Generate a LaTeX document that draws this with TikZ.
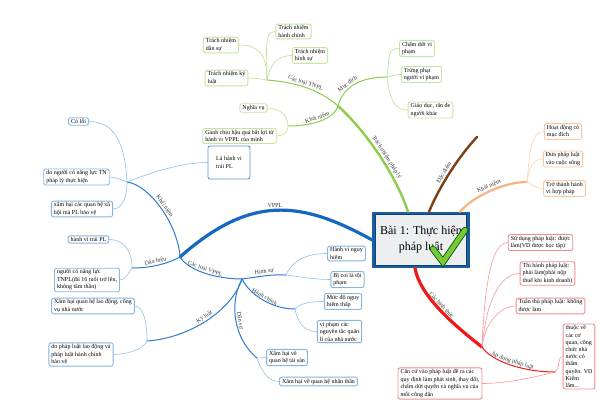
\documentclass[tikz,border=0pt]{standalone}
\usepackage{fontspec}
\setmainfont{Liberation Serif}
\usetikzlibrary{calc}
\definecolor{gmainc}{RGB}{140,205,75}
\definecolor{gleafc}{RGB}{185,225,145}
\definecolor{gboxc}{RGB}{195,230,160}
\definecolor{bmainc}{RGB}{20,105,190}
\definecolor{bsubc}{RGB}{45,125,205}
\definecolor{bleafc}{RGB}{145,192,235}
\definecolor{bboxc}{RGB}{130,182,228}
\definecolor{rmainc}{RGB}{238,25,25}
\definecolor{rleafc}{RGB}{250,150,150}
\definecolor{rboxc}{RGB}{242,140,140}
\definecolor{omainc}{RGB}{246,180,130}
\definecolor{oleafc}{RGB}{250,212,180}
\definecolor{oboxc}{RGB}{248,200,160}
\definecolor{brc}{RGB}{125,65,20}
\definecolor{cframe}{RGB}{25,95,160}
\definecolor{cfill}{RGB}{236,238,240}
\definecolor{chk}{RGB}{120,200,55}
\definecolor{lblc}{RGB}{55,55,55}

\begin{document}
\begin{tikzpicture}[
  x=1pt,y=-1pt,line cap=round,
  box/.style={draw,rounded corners=2pt,fill=white,line width=.9pt,align=left,
    font=\fontsize{6}{7.5}\selectfont,inner xsep=2.5pt,inner ysep=1.5pt},
  gbox/.style={box,draw=gboxc},
  bbox/.style={box,draw=bboxc},
  obox/.style={box,draw=oboxc},
  rbox/.style={box,draw=rboxc},
  lbl/.style={font=\fontsize{6}{7}\selectfont,text=lblc,sloped,above,inner sep=1pt},
  gmain/.style={draw=gmainc,line width=2.4pt},
  gsub/.style={draw=gmainc,line width=1pt},
  gleaf/.style={draw=gleafc,line width=.6pt},
  bmain/.style={draw=bmainc,line width=3.2pt},
  bsub/.style={draw=bsubc,line width=1pt},
  bleaf/.style={draw=bleafc,line width=.6pt},
  rmain/.style={draw=rmainc,line width=3.2pt},
  rsub/.style={draw=rmainc,line width=1pt},
  rleaf/.style={draw=rleafc,line width=.6pt},
  omain/.style={draw=omainc,line width=2.2pt},
  oleaf/.style={draw=oleafc,line width=.6pt},
  brmain/.style={draw=brc,line width=2.4pt}]
\useasboundingbox[fill=white] (0,0) rectangle (600,400);

% centre
\node[draw=cframe,fill=cfill,line width=3.5pt,minimum width=94pt,minimum height=53pt,
  align=center,font=\fontsize{12}{16}\selectfont] (ctr) at (421,240)
  {Bài 1: Thực hiện\\pháp luật};
\draw[cframe!70!black,line width=.6pt] ([shift={(3,3)}]ctr.north west) rectangle ([shift={(-3,-3)}]ctr.south east);
\draw[green!35!black,line width=6.5pt,line join=miter] (433,249)--(443,262)--(465,230);
\draw[chk,line width=4.8pt,line join=miter] (433,249)--(443,262)--(465,230);

% hubs
\coordinate (gJ) at (338,106);
\coordinate (mHub) at (387,77);
\coordinate (tHub) at (267,80);
\coordinate (kHub) at (288,126);
\coordinate (brEnd) at (477,137);
\coordinate (oHub) at (527,182);
\coordinate (rHub) at (482,347);
\coordinate (aHub) at (555,372);
\coordinate (bJ) at (180,257);
\coordinate (bkHub) at (127,182);
\coordinate (bdHub) at (132,268);
\coordinate (bJ3) at (242,279);
\coordinate (hsHub) at (286,275);
\coordinate (hcHub) at (295,309);
\coordinate (dsHub) at (257,358);
\coordinate (klHub) at (147,341);

% green
\node[gbox] (mdA) at (417,48.5) {Chấm dứt vi\\phạm};
\node[gbox] (mdB) at (421.5,74.5) {Trừng phạt\\người vi phạm};
\node[gbox] (mdC) at (430.5,110) {Giáo dục, răn đe\\người khác};
\node[gbox] (tnA) at (221,45) {Trách nhiệm\\dân sự};
\node[gbox] (tnB) at (293.5,31.5) {Trách nhiệm\\hành chính};
\node[gbox] (tnC) at (310,55.5) {Trách nhiệm\\hình sự};
\node[gbox] (tnD) at (226.5,78) {Trách nhiệm kỷ\\luật};
\node[gbox] (knA) at (253.5,108) {Nghĩa vụ};
\node[gbox] (knB) at (239.5,136) {Gánh chịu hậu quả bất lợi từ\\hành vi VPPL của mình};

% orange
\node[obox] (okA) at (563,131.5) {Hoạt động có\\mục đích};
\node[obox] (okB) at (563,159) {Đưa pháp luật\\vào cuộc sống};
\node[obox] (okC) at (564.5,188.5) {Trở thành hành\\vi hợp pháp};

% red
\node[rbox] (rA) at (540.5,242.5) {Sử dụng pháp luật: được\\làm(VD được học tập)};
\node[rbox] (rB) at (547.5,273.5) {Thi hành pháp luật:\\phải làm(phải nộp\\thuế khi kinh doanh)};
\node[rbox] (rC) at (550.5,306) {Tuân thủ pháp luật: không\\được làm};
\node[rbox,font=\fontsize{6}{7.2}\selectfont] (rD) at (579,356.5)
  {thuộc về\\các cơ\\quan, công\\chức nhà\\nước có\\thẩm\\quyền. VD\\Kiểm\\lâm...};
\node[rbox] (rE) at (440,383.5) {Căn cứ vào pháp luật đề ra các\\quy định làm phát sinh, thay đổi,\\chấm dứt quyền và nghĩa vụ của\\mỗi công dân};

% blue
\node[bbox] (bkA) at (78.5,121.5) {Có lỗi};
\node[bbox,draw=bsubc!80,minimum width=42pt,minimum height=33pt,inner xsep=6pt] (bkB) at (229,162.5) {Là hành vi\\trái PL};
\node[bbox] (bkC) at (76.5,177) {do người có năng lực TN\\pháp lý thực hiện};
\node[bbox] (bkD) at (82,209) {xâm hại các quan hệ xã\\hội mà PL bảo vệ};
\node[bbox] (bdA) at (88.5,239.5) {hành vi trái PL};
\node[bbox] (bdB) at (87,280) {người có năng lực\\TNPL(đủ 16 tuổi trở lên,\\không tâm thần)};
\node[bbox] (hsA) at (346.5,253.5) {Hành vi nguy\\hiểm};
\node[bbox] (hsB) at (347.5,279.5) {Bị coi là tội\\phạm};
\node[bbox] (hcA) at (343,301.5) {Mức độ nguy\\hiểm thấp};
\node[bbox] (hcB) at (339.5,331.5) {vi phạm các\\nguyên tắc quản\\lí của nhà nước};
\node[bbox] (dsA) at (287,357.5) {Xâm hại về\\quan hệ tài sản};
\node[bbox] (dsB) at (318.5,381.5) {Xâm hại về quan hệ nhân thân};
\node[bbox] (klA) at (93,306) {Xâm hại quan hệ lao động, công\\vụ nhà nước};
\node[bbox] (klB) at (81,354.5) {do pháp luật lao động và\\pháp luật hành chính\\bảo vệ};

% green branch
\draw[gmain] ([xshift=-13pt]ctr.north) .. controls (396,175) and (365,130) .. node[lbl,pos=.45]{Trách nhiệm pháp lý} (gJ);
\draw[gsub] (gJ) .. controls +(5,-20) and +(-25,0) .. node[lbl,pos=.4]{Mục đích} (mHub);
\draw[gsub] (gJ) .. controls +(-20,-18) and +(25,2) .. node[lbl]{Các loại TNPL} (tHub);
\draw[gsub] (gJ) .. controls +(-5,15) and +(20,0) .. node[lbl]{Khái niệm} (kHub);
\draw[gleaf] (mHub) .. controls +(3,-22) and +(-12,0) .. (mdA.west);
\draw[gleaf] (mHub) .. controls +(6,-1) and +(-6,0) .. (mdB.west);
\draw[gleaf] (mHub) .. controls +(3,25) and +(-12,0) .. (mdC.west);
\draw[gleaf] (tHub) .. controls +(0,-25) and +(20,0) .. (tnA.east);
\draw[gleaf] (tHub) .. controls +(0,-30) and +(-12,0) .. (tnB.west);
\draw[gleaf] (tHub) .. controls +(3,-15) and +(-15,0) .. (tnC.west);
\draw[gleaf] (tHub) .. controls +(-8,-1) and +(8,0) .. (tnD.east);
\draw[gleaf] (kHub) .. controls +(0,-12) and +(10,0) .. (knA.east);
\draw[gleaf] (kHub) .. controls +(0,8) and +(5,0) .. (knB.east);

% brown branch
\draw[brmain] ([xshift=8pt]ctr.north) .. controls (440,185) and (460,155) .. node[lbl,pos=.45]{Đặc điểm} (brEnd);

% orange branch
\draw[omain] ([xshift=-10pt]ctr.north east) .. controls (475,195) and (505,182) .. node[lbl]{Khái niệm} (oHub);
\draw[oleaf] (oHub) .. controls +(3,-35) and +(-12,0) .. (okA.west);
\draw[oleaf] (oHub) .. controls +(2,-15) and +(-10,0) .. (okB.west);
\draw[oleaf] (oHub) .. controls +(5,3) and +(-8,0) .. (okC.west);

% red branch
\draw[rmain] ([xshift=-6pt]ctr.south) .. controls (420,295) and (450,322) .. node[lbl]{Các hình thức} (rHub);
\draw[rleaf] (rHub) .. controls +(3,-70) and +(-15,0) .. (rA.west);
\draw[rleaf] (rHub) .. controls +(4,-45) and +(-20,0) .. (rB.west);
\draw[rleaf] (rHub) .. controls +(3,-25) and +(-15,0) .. (rC.west);
\draw[rsub] (rHub) .. controls (492,362) and (525,372) .. node[lbl]{Áp dụng pháp luật} (aHub);
\draw[rleaf] (aHub) .. controls +(5,-3) and +(-5,0) .. (rD.west);
\draw[rleaf] (aHub) .. controls +(-20,5) and +(25,0) .. (rE.east);

% blue branch
\draw[bmain] (ctr.west) .. controls (300,200) and (250,195) .. node[lbl]{VPPL} (bJ);
\draw[bsub] (bJ) .. controls (178,225) and (150,185) .. node[lbl]{Khái niệm} (bkHub);
\draw[bsub] (bJ) .. controls (165,265) and (148,268) .. node[lbl]{Dấu hiệu} (bdHub);
\draw[bsub] (bJ) .. controls (188,270) and (215,279) .. node[lbl]{Các loại VPPL} (bJ3);
\draw[bleaf] (bkHub) .. controls +(-2,-40) and +(25,0) .. (bkA.east);
\draw[bleaf] (bkHub) .. controls +(25,-10) and +(-25,0) .. (bkB.west);
\draw[bleaf] (bkHub) .. controls +(-5,-2) and +(5,0) .. (bkC.east);
\draw[bleaf] (bkHub) .. controls +(0,18) and +(8,0) .. (bkD.east);
\draw[bleaf] (bdHub) .. controls +(0,-20) and +(12,0) .. (bdA.east);
\draw[bleaf] (bdHub) .. controls +(-3,5) and +(5,0) .. (bdB.east);
\draw[bsub] (bJ3) .. controls (258,277) and (272,274) .. node[lbl]{Hình sự} (hsHub);
\draw[bsub] (bJ3) .. controls (250,295) and (272,309) .. node[lbl]{Hành chính} (hcHub);
\draw[bsub] (bJ3) .. controls (228,305) and (235,340) .. node[lbl]{Dân sự} (dsHub);
\draw[bsub] (bJ3) .. controls (232,310) and (190,338) .. node[lbl]{Kỷ luật} (klHub);
\draw[bleaf] (hsHub) .. controls +(8,-18) and +(-15,0) .. (hsA.west);
\draw[bleaf] (hsHub) .. controls +(15,2) and +(-15,0) .. (hsB.west);
\draw[bleaf] (hcHub) .. controls +(5,-6) and +(-12,0) .. (hcA.west);
\draw[bleaf] (hcHub) .. controls +(3,15) and +(-12,0) .. (hcB.west);
\draw[bleaf] (dsHub) .. controls +(4,0) and +(-4,0) .. (dsA.west);
\draw[bleaf] (dsHub) .. controls +(5,15) and +(-10,0) .. (dsB.west);
\draw[bleaf] (klHub) .. controls +(0,-20) and +(8,0) .. (klA.east);
\draw[bleaf] (klHub) .. controls +(-5,10) and +(10,0) .. (klB.east);
\end{tikzpicture}
\end{document}
